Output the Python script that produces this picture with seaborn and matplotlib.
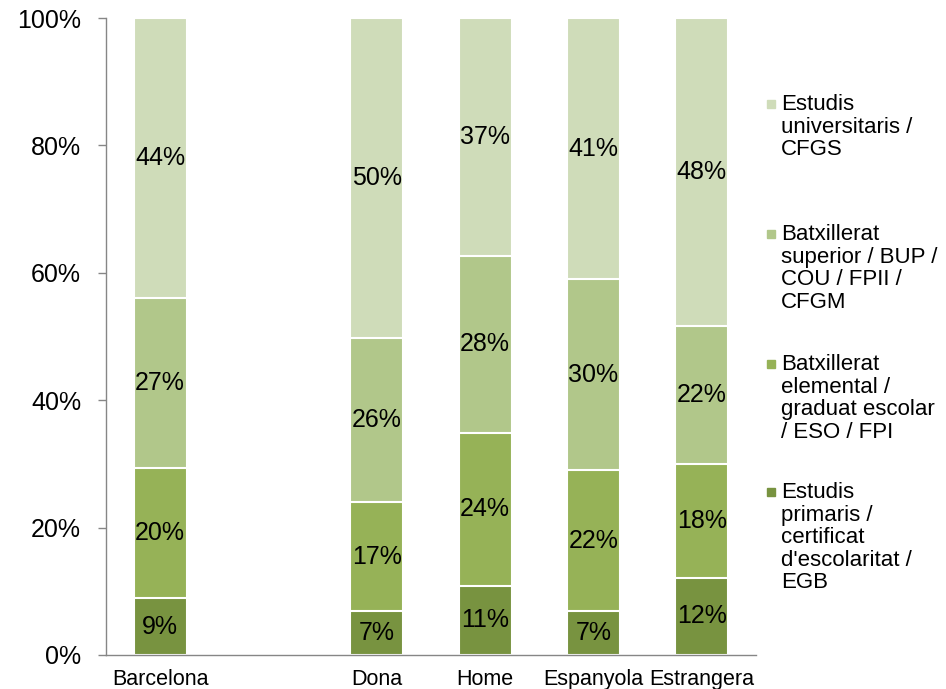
import numpy as np
import pandas as pd
import seaborn as sns
import matplotlib.pyplot as plt
from matplotlib.patches import Rectangle

# categories on the x axis (blank slot between Barcelona and Dona)
order = ["Barcelona", "", "Dona", "Home", "Espanyola", "Estrangera"]
cats = ["Barcelona", "Dona", "Home", "Espanyola", "Estrangera"]

# shares in %, bottom to top
primaris = [8.9, 6.9, 10.9, 6.9, 12.1]
elemental = [20.4, 17.1, 24.0, 22.1, 17.9]
superior = [26.7, 25.8, 27.8, 30.0, 21.6]
universitaris = [44.0, 50.2, 37.3, 41.0, 48.4]

series = [primaris, elemental, superior, universitaris]
legend_labels = [
    "Estudis\nprimaris /\ncertificat\nd'escolaritat /\nEGB",
    "Batxillerat\nelemental /\ngraduat escolar\n/ ESO / FPI",
    "Batxillerat\nsuperior / BUP /\nCOU / FPII /\nCFGM",
    "Estudis\nuniversitaris /\nCFGS",
]
colors = ["#789340", "#96B257", "#B1C78A", "#CFDCB9"]

sns.set_theme(style="white")
plt.rcParams['font.family'] = ['Liberation Sans', 'DejaVu Sans']
plt.rcParams['text.color'] = 'black'
plt.rcParams['xtick.labelcolor'] = 'black'
plt.rcParams['ytick.labelcolor'] = 'black'

fig = plt.figure(figsize=(9.46, 6.89), dpi=100)
ax = fig.add_axes([106 / 946, 34 / 689, 650 / 946, 637 / 689])

vals = np.array(series)
cum = np.cumsum(vals, axis=0)

# draw tallest cumulative first so the lower segments sit on top
for i in range(len(series) - 1, -1, -1):
    df = pd.DataFrame({"cat": cats, "cum": cum[i]})
    sns.barplot(data=df, x="cat", y="cum", order=order, color=colors[i],
                saturation=1, width=0.49, edgecolor="white", linewidth=1.5,
                errorbar=None, ax=ax)

# segment labels
for j, c in enumerate(cats):
    xpos = order.index(c)
    bottom = 0
    for i in range(len(series)):
        v = vals[i, j]
        ax.text(xpos, bottom + v / 2, f"{v:.0f}%", ha="center", va="center",
                fontsize=18, color="black")
        bottom += v

ax.set_ylim(0, 100)
ax.set_xlim(-0.5, len(order) - 0.5)
ax.set_yticks([0, 20, 40, 60, 80, 100])
ax.set_yticklabels([f"{t}%" for t in [0, 20, 40, 60, 80, 100]], fontsize=18)
ax.set_xticks(range(len(order)))
ax.set_xticklabels(order, fontsize=15.5)
ax.set_xticks(np.arange(-0.5, len(order)), minor=True)
ax.tick_params(axis="x", which="major", length=0, pad=10)
ax.tick_params(axis="x", which="minor", length=7, width=1, color="#868686", direction="out")
ax.tick_params(axis="y", length=6, width=1, color="#868686", direction="out", left=True, pad=12)
ax.set_xlabel("")
ax.set_ylabel("")
sns.despine(ax=ax)
for s in ["left", "bottom"]:
    ax.spines[s].set_color("#868686")
    ax.spines[s].set_linewidth(1)

# legend, top entry first, marker next to first line
tops = [97, 227, 357, 485]
for k, idx in enumerate([3, 2, 1, 0]):
    y = tops[k]
    fig.patches.append(Rectangle((767 / 946, 1 - (y + 11) / 689), 8 / 946, 8 / 689,
                                 transform=fig.transFigure, color=colors[idx]))
    fig.text(781 / 946, 1 - (y - 3) / 689, legend_labels[idx], fontsize=16,
             va="top", ha="left", linespacing=1.1, color="black")

fig.savefig("out.png", dpi=100)
